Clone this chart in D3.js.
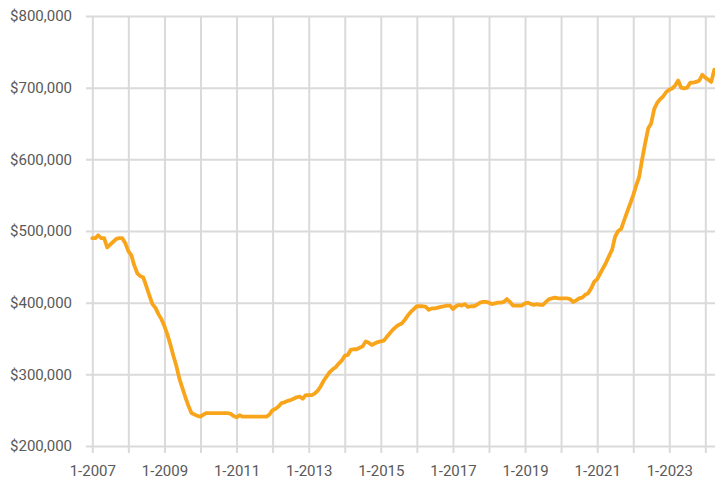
<!DOCTYPE html>
<html>
<head>
<meta charset="utf-8">
<script src="https://cdn.jsdelivr.net/npm/d3@7"></script>
<style>
  body { margin: 0; background: #fff; }
  .axis text { font-family: "Roboto", sans-serif; font-size: 15px; fill: #595959; }
  .axis line { stroke: #dadada; stroke-width: 2px; }
</style>
</head>
<body>
<svg id="chart" width="715" height="481"></svg>
<script>
// monthly series, first value is 1-2007
var firstMonth = [2007, 0];
var medianPrice = [
  // 2007
  490000, 490000, 494000, 490000, 490000, 477000, 481000, 485000, 489000, 490000, 490000, 483000,
  // 2008
  472000, 466000, 452000, 441000, 437000, 435000, 423000, 410000, 398000, 393000, 384000, 377000,
  // 2009
  367000, 355000, 342000, 326000, 312000, 294000, 281000, 268000, 256000, 246000, 244000, 242000,
  // 2010
  241000, 244000, 246000, 246000, 246000, 246000, 246000, 246000, 246000, 246000, 245000, 242000,
  // 2011
  240000, 243000, 241000, 241000, 241000, 241000, 241000, 241000, 241000, 241000, 241000, 244000,
  // 2012
  250000, 252000, 255000, 260000, 261000, 263000, 264000, 266000, 268000, 269000, 266000, 271000,
  // 2013
  271000, 271000, 273000, 277000, 283000, 291000, 297000, 303000, 307000, 310000, 315000, 319000,
  // 2014
  326000, 327000, 334000, 335000, 335000, 337000, 339000, 346000, 344000, 341000, 343000, 345000,
  // 2015
  346000, 347000, 352000, 357000, 362000, 366000, 369000, 371000, 376000, 382000, 387000, 391000,
  // 2016
  395000, 395000, 395000, 394000, 390000, 392000, 392000, 393000, 394000, 395000, 396000, 396000,
  // 2017
  391000, 395000, 397000, 396000, 398000, 394000, 395000, 395000, 397000, 400000, 401000, 401000,
  // 2018
  400000, 398000, 399000, 400000, 400000, 401000, 405000, 401000, 396000, 396000, 396000, 396000,
  // 2019
  399000, 400000, 398000, 397000, 398000, 397000, 397000, 401000, 405000, 406000, 407000, 406000,
  // 2020
  406000, 406000, 406000, 405000, 401000, 403000, 406000, 407000, 411000, 413000, 420000, 429000,
  // 2021
  433000, 441000, 448000, 456000, 465000, 474000, 492000, 500000, 503000, 515000, 527000, 538000,
  // 2022
  550000, 564000, 575000, 600000, 622000, 643000, 650000, 670000, 679000, 684000, 688000, 694000,
  // 2023
  697000, 699000, 703000, 710000, 700000, 699000, 700000, 707000, 707000, 708000, 710000, 718000,
  // 2024
  714000, 711000, 708000, 725000
];
var yTicks = [200000, 300000, 400000, 500000, 600000, 700000, 800000];
var xTickYears = [2007, 2008, 2009, 2010, 2011, 2012, 2013, 2014, 2015, 2016, 2017, 2018, 2019, 2020, 2021, 2022, 2023, 2024];
var xLabelYears = [2007, 2009, 2011, 2013, 2015, 2017, 2019, 2021, 2023];
var lineColor = "#f9a51b";

var width = 715, height = 481;
var gridLeft = 86, gridTop = 16, gridBottom = 446;

var data = medianPrice.map(function (v, i) {
    return { date: new Date(firstMonth[0], firstMonth[1] + i, 1), value: v };
});

var x = d3.scaleTime()
    .domain([data[0].date, data[data.length - 1].date])
    .range([92.3, 714.3]);

var y = d3.scaleLinear()
    .domain([200000, 800000])
    .range([gridBottom, gridTop]);

var svg = d3.select("#chart");

// horizontal grid + dollar labels
svg.append("g")
    .attr("class", "axis y")
    .attr("transform", "translate(" + width + ",0)")
    .call(d3.axisLeft(y)
        .tickValues(yTicks)
        .tickSize(width - gridLeft)
        .tickPadding(14)
        .tickFormat(function (d) { return "$" + d3.format(",")(d); }))
    .call(function (g) { g.select(".domain").remove(); });

// vertical grid + month-year labels
svg.append("g")
    .attr("class", "axis x")
    .attr("transform", "translate(0," + gridTop + ")")
    .call(d3.axisBottom(x)
        .tickValues(xTickYears.map(function (yr) { return new Date(yr, 0, 1); }))
        .tickSize(gridBottom - gridTop + 7)
        .tickPadding(12)
        .tickFormat(function (d) {
            return xLabelYears.indexOf(d.getFullYear()) >= 0 ? (d.getMonth() + 1) + "-" + d.getFullYear() : "";
        }))
    .call(function (g) { g.select(".domain").remove(); });

var line = d3.line()
    .x(function (d) { return x(d.date); })
    .y(function (d) { return y(d.value); });

svg.append("path")
    .datum(data)
    .attr("fill", "none")
    .attr("stroke", lineColor)
    .attr("stroke-width", 3.8)
    .attr("stroke-linejoin", "round")
    .attr("stroke-linecap", "round")
    .attr("d", line);
</script>
</body>
</html>
